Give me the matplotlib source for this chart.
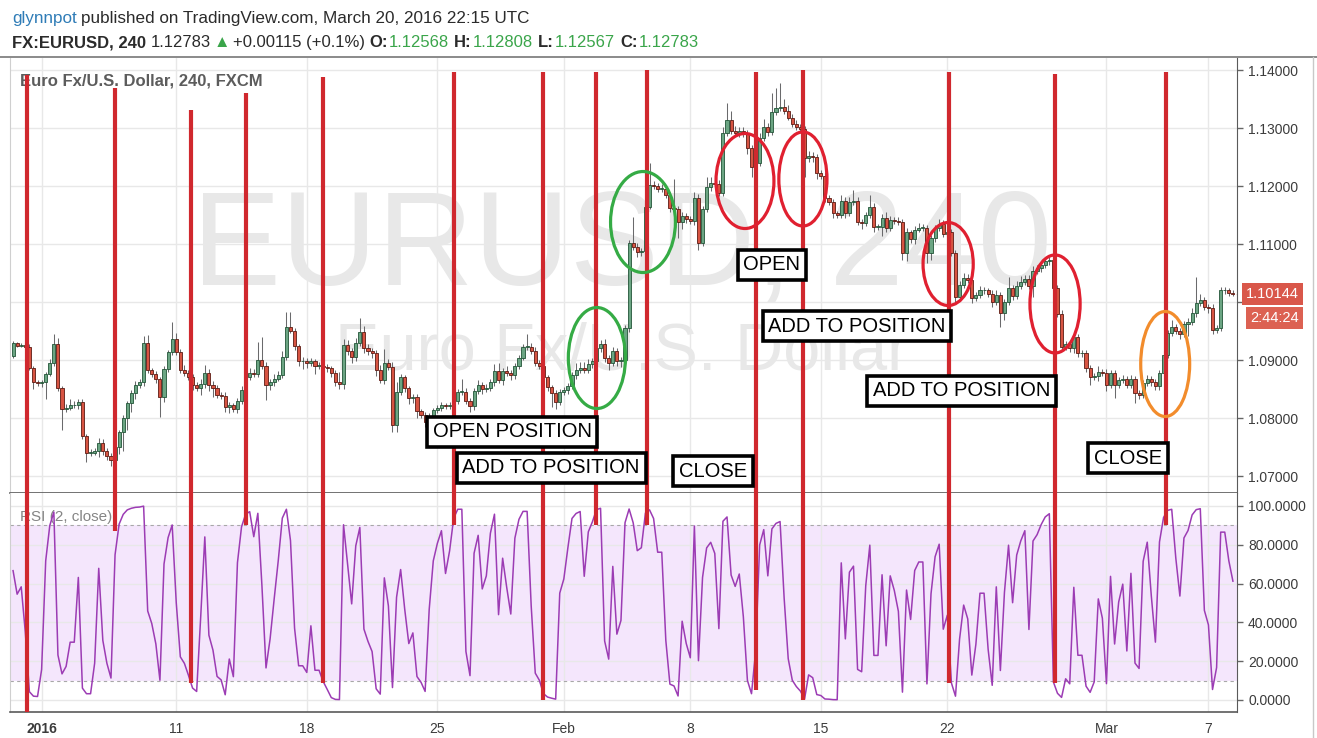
import numpy as np
import matplotlib
matplotlib.use("Agg")
import matplotlib.pyplot as plt
from matplotlib.patches import Ellipse
from matplotlib.lines import Line2D
from matplotlib.transforms import blended_transform_factory

plt.rcParams['font.family'] = ['Liberation Sans', 'DejaVu Sans']

# ---------------------------------------------------------------- data
first_open = 1.0907
close = [
    1.0929, 1.0925, 1.0926, 1.0922, 1.0886, 1.0862, 1.0860, 1.0862, 1.0876, 1.0895,
    1.0928, 1.0852, 1.0816, 1.0818, 1.0822, 1.0822, 1.0828, 1.0769, 1.0740, 1.0740,
    1.0743, 1.0757, 1.0743, 1.0735, 1.0728, 1.0750, 1.0776, 1.0800, 1.0826, 1.0843,
    1.0857, 1.0862, 1.0929, 1.0883, 1.0876, 1.0867, 1.0836, 1.0884, 1.0914, 1.0936,
    1.0914, 1.0883, 1.0878, 1.0870, 1.0857, 1.0852, 1.0858, 1.0877, 1.0857, 1.0852,
    1.0840, 1.0838, 1.0819, 1.0822, 1.0816, 1.0830, 1.0848, 1.0870, 1.0878, 1.0876,
    1.0900, 1.0890, 1.0857, 1.0862, 1.0868, 1.0875, 1.0905, 1.0957, 1.0950, 1.0924,
    1.0898, 1.0898, 1.0895, 1.0898, 1.0890, 1.0890, 1.0888, 1.0886, 1.0878, 1.0862,
    1.0858, 1.0926, 1.0915, 1.0905, 1.0930, 1.0948, 1.0920, 1.0915, 1.0912, 1.0883,
    1.0866, 1.0895, 1.0888, 1.0788, 1.0845, 1.0870, 1.0852, 1.0834, 1.0836, 1.0812,
    1.0806, 1.0793, 1.0803, 1.0813, 1.0818, 1.0822, 1.0820, 1.0822, 1.0830, 1.0845,
    1.0845, 1.0830, 1.0820, 1.0846, 1.0857, 1.0850, 1.0852, 1.0862, 1.0881, 1.0865,
    1.0881, 1.0877, 1.0874, 1.0889, 1.0904, 1.0923, 1.0923, 1.0915, 1.0895, 1.0890,
    1.0870, 1.0853, 1.0843, 1.0828, 1.0845, 1.0848, 1.0855, 1.0874, 1.0883, 1.0887,
    1.0883, 1.0893, 1.0898, 1.0920, 1.0928, 1.0903, 1.0895, 1.0915, 1.0898, 1.0900,
    1.0955, 1.1102, 1.1095, 1.1086, 1.1088, 1.1164, 1.1202, 1.1200, 1.1195, 1.1195,
    1.1185, 1.1162, 1.1160, 1.1138, 1.1148, 1.1143, 1.1140, 1.1179, 1.1102, 1.1160,
    1.1198, 1.1205, 1.1203, 1.1188, 1.1291, 1.1314, 1.1295, 1.1292, 1.1295, 1.1290,
    1.1266, 1.1233, 1.1240, 1.1283, 1.1302, 1.1293, 1.1327, 1.1335, 1.1337, 1.1330,
    1.1318, 1.1307, 1.1302, 1.1298, 1.1248, 1.1252, 1.1250, 1.1222, 1.1218, 1.1179,
    1.1173, 1.1153, 1.1150, 1.1175, 1.1153, 1.1173, 1.1175, 1.1138, 1.1136, 1.1150,
    1.1164, 1.1130, 1.1130, 1.1144, 1.1127, 1.1142, 1.1140, 1.1138, 1.1084, 1.1120,
    1.1108, 1.1125, 1.1128, 1.1128, 1.1085, 1.1110, 1.1128, 1.1135, 1.1118, 1.1120,
    1.1085, 1.1009, 1.1030, 1.1042, 1.1038, 1.1007, 1.1012, 1.1020, 1.1020, 1.1014,
    1.1000, 1.1012, 1.0981, 1.1000, 1.1024, 1.1011, 1.1028, 1.1035, 1.1040, 1.1028,
    1.1054, 1.1058, 1.1064, 1.1070, 1.1073, 1.1025, 1.0980, 1.0923, 1.0928, 1.0920,
    1.0940, 1.0912, 1.0912, 1.0886, 1.0871, 1.0872, 1.0880, 1.0878, 1.0857, 1.0877,
    1.0857, 1.0865, 1.0868, 1.0857, 1.0868, 1.0843, 1.0840, 1.0860, 1.0868, 1.0862,
    1.0855, 1.0877, 1.0909, 1.0947, 1.0957, 1.0950, 1.0945, 1.0962, 1.0966, 1.0981,
    1.0998, 1.1003, 1.0992, 1.0990, 1.0952, 1.0955, 1.1020, 1.1020, 1.1016, 1.1014,
]
# wick lengths above / below the candle body, in pips (0.0001)
wick_up_pips = [
    3, 2, 3, 4, 5, 3, 4, 4, 3, 6,
    17, 10, 4, 6, 10, 8, 5, 4, 3, 6,
    5, 8, 6, 5, 4, 3, 3, 5, 4, 6,
    7, 6, 12, 14, 4, 5, 3, 6, 4, 30,
    10, 5, 8, 4, 6, 5, 10, 15, 8, 6,
    5, 5, 6, 5, 4, 5, 8, 10, 8, 6,
    31, 40, 6, 5, 8, 6, 10, 26, 26, 6,
    4, 8, 6, 5, 4, 6, 4, 5, 4, 5,
    17, 10, 8, 6, 8, 25, 10, 7, 6, 5,
    8, 24, 6, 8, 17, 6, 5, 4, 6, 5,
    4, 5, 6, 5, 4, 5, 4, 5, 6, 5,
    22, 6, 5, 6, 8, 5, 6, 6, 12, 14,
    6, 8, 5, 6, 5, 5, 22, 6, 8, 5,
    4, 5, 4, 6, 5, 6, 5, 6, 12, 10,
    10, 8, 6, 5, 6, 8, 6, 8, 6, 5,
    5, 5, 45, 6, 5, 6, 38, 6, 5, 8,
    6, 5, 50, 6, 8, 6, 5, 10, 8, 6,
    18, 10, 6, 8, 10, 29, 16, 8, 6, 6,
    6, 5, 6, 8, 14, 6, 33, 34, 41, 13,
    10, 6, 6, 5, 5, 8, 6, 5, 6, 6,
    5, 5, 4, 10, 6, 8, 18, 6, 5, 6,
    21, 6, 5, 8, 12, 6, 5, 6, 5, 8,
    5, 6, 8, 6, 5, 6, 5, 8, 6, 5,
    6, 5, 6, 8, 6, 5, 6, 8, 6, 5,
    6, 8, 5, 6, 19, 6, 8, 10, 6, 6,
    8, 6, 5, 6, 5, 6, 5, 6, 5, 5,
    6, 5, 6, 5, 6, 5, 10, 5, 6, 5,
    6, 5, 6, 5, 6, 5, 6, 5, 6, 5,
    6, 5, 6, 5, 12, 5, 6, 6, 6, 8,
    45, 10, 6, 5, 6, 5, 6, 6, 5, 4,
]
wick_dn_pips = [
    4, 3, 3, 3, 4, 12, 5, 6, 30, 4,
    5, 6, 37, 6, 5, 5, 6, 5, 15, 5,
    4, 10, 6, 8, 10, 12, 12, 33, 20, 15,
    10, 5, 6, 5, 6, 6, 34, 8, 5, 5,
    5, 6, 5, 4, 8, 6, 12, 6, 10, 15,
    6, 6, 8, 10, 6, 8, 5, 4, 5, 6,
    5, 6, 26, 8, 6, 5, 6, 5, 4, 6,
    8, 13, 8, 6, 14, 6, 5, 6, 8, 6,
    8, 8, 6, 10, 6, 5, 8, 6, 8, 10,
    6, 8, 6, 12, 12, 6, 8, 10, 8, 12,
    6, 8, 12, 6, 5, 6, 4, 5, 6, 6,
    5, 6, 10, 6, 5, 8, 5, 5, 6, 5,
    8, 5, 8, 6, 5, 4, 5, 5, 6, 5,
    6, 6, 24, 12, 6, 5, 6, 5, 6, 5,
    6, 5, 6, 5, 6, 6, 12, 6, 8, 10,
    5, 6, 5, 8, 6, 5, 4, 5, 6, 5,
    6, 6, 8, 28, 12, 6, 5, 8, 12, 6,
    5, 6, 5, 6, 6, 5, 6, 5, 8, 6,
    10, 17, 10, 6, 5, 6, 5, 5, 6, 6,
    5, 6, 6, 5, 32, 6, 8, 10, 6, 6,
    6, 8, 5, 6, 8, 5, 5, 6, 10, 5,
    6, 10, 6, 17, 6, 5, 6, 5, 12, 14,
    6, 8, 5, 6, 18, 12, 6, 5, 6, 5,
    6, 9, 6, 5, 6, 8, 6, 5, 6, 6,
    8, 6, 24, 12, 6, 8, 5, 6, 5, 6,
    20, 5, 6, 5, 6, 5, 6, 8, 6, 6,
    8, 6, 6, 6, 14, 6, 8, 6, 10, 6,
    23, 6, 5, 6, 6, 17, 8, 6, 5, 6,
    6, 6, 5, 6, 6, 6, 8, 6, 20, 6,
    6, 5, 6, 9, 8, 6, 5, 6, 5, 4,
]
rsi_length = 2
rsi_seed_gain, rsi_seed_loss = 0.0002, 0.0012

date_labels = ['2016', '11', '18', '25', 'Feb', '8', '15', '22', 'Mar', '7']
date_bars = [7, 40, 72, 104, 135, 166, 198, 229, 268, 293]
price_ticks = [1.07, 1.08, 1.09, 1.10, 1.11, 1.12, 1.13, 1.14]
hidden_price_ticks = [1.10]          # covered by the last-price badge in the reference
rsi_ticks = [0, 20, 40, 60, 80, 100]

# drawn signal lines: bar, top (price), bottom (RSI value)
signal_bars = [3.5, 25, 43.5, 57, 76, 108, 130, 143, 155.5, 182, 193.5, 229.5, 255.5, 282.5]
signal_top = [1.13914, 1.13690, 1.13310, 1.13603, 1.13879, 1.13966, 1.13966,
              1.13966, 1.14000, 1.13966, 1.14000, 1.13966, 1.13931, 1.13966]
signal_rsi_end = [-7, 87, 9, 90, 9, 90, 0, 90, 90, 5, 0, 9, 9, 90]

# hand-drawn ellipses: bar, price, width (bars), height (price), colour
circles = [
    (143.1, 1.09034, 14.0, 0.01741, '#35ab45'),
    (154.4, 1.11379, 15.9, 0.01741, '#35ab45'),
    (179.4, 1.12086, 14.2, 0.01638, '#e02030'),
    (193.6, 1.12121, 11.8, 0.01621, '#e02030'),
    (229.2, 1.10655, 12.3, 0.01431, '#e02030'),
    (255.4, 1.09966, 12.3, 0.01690, '#e02030'),
    (282.4, 1.08931, 12.0, 0.01810, '#f28c2c'),
]
notes = [
    ('OPEN POSITION', 122.3, 1.07759),
    ('ADD TO POSITION', 131.9, 1.07138),
    ('CLOSE', 171.6, 1.07086),
    ('OPEN', 186.0, 1.10638),
    ('ADD TO POSITION', 206.9, 1.09586),
    ('ADD TO POSITION', 232.4, 1.08466),
    ('CLOSE', 273.3, 1.07310),
]
last_price_label = '1.10144'
countdown_label = '2:44:24'

# ---------------------------------------------------------------- derived
c = np.array(close)
o = np.concatenate([[first_open], c[:-1]])
hi = np.maximum(o, c) + np.array(wick_up_pips) * 1e-4
lo = np.minimum(o, c) - np.array(wick_dn_pips) * 1e-4
idx = np.arange(len(c))
up = c >= o

# RSI (Wilder smoothing), as the indicator is defined
delta = np.diff(np.concatenate([[first_open], c]))
ag, al = rsi_seed_gain, rsi_seed_loss
rsi = []
for d in delta:
    g, l = max(d, 0.0), max(-d, 0.0)
    ag = (ag * (rsi_length - 1) + g) / rsi_length
    al = (al * (rsi_length - 1) + l) / rsi_length
    rsi.append(100.0 if al == 0 else 100.0 - 100.0 / (1.0 + ag / al))
rsi = np.array(rsi)

# ---------------------------------------------------------------- figure
W, H = 1317, 738
fig = plt.figure(figsize=(W / 100, H / 100), dpi=100)
fig.patch.set_facecolor('white')


def fx(px):
    return px / W


def fy(py):
    return 1 - py / H


AX_L, AX_R = 10, 1237
P_TOP, P_BOT, R_BOT = 58, 493, 712
ax1 = fig.add_axes([fx(AX_L), fy(P_BOT), (AX_R - AX_L) / W, (P_BOT - P_TOP) / H])
ax2 = fig.add_axes([fx(AX_L), fy(R_BOT), (AX_R - AX_L) / W, (R_BOT - P_BOT) / H], sharex=ax1)

XLIM = (-0.75, 300.0)
PY = (1.067069, 1.142069)
RY = (-6.19, 106.7)
ax1.set_xlim(*XLIM)
ax1.set_ylim(*PY)
ax2.set_ylim(*RY)

GRID = '#e8e8e8'
for ax in (ax1, ax2):
    ax.set_facecolor('white')
    ax.grid(True, color=GRID, lw=1.0)
    ax.set_axisbelow(True)
    ax.spines['left'].set_color('#cfcfcf')
    ax.spines['right'].set_color('#5a5a5a')
    ax.spines['bottom'].set_color('#5a5a5a')
    ax.spines['top'].set_visible(False)
    ax.yaxis.tick_right()
    ax.tick_params(axis='y', length=4, width=1, color='#666666', labelsize=10,
                   labelcolor='#3c3c3c', pad=4)
ax1.spines['bottom'].set_linewidth(1.2)
ax2.spines['bottom'].set_linewidth(1.2)

ax1.set_yticks(price_ticks)
ax1.set_yticklabels(['' if v in hidden_price_ticks else f'{v:.5f}' for v in price_ticks])
ax2.set_yticks(rsi_ticks)
ax2.set_yticklabels([f'{v:.4f}' for v in rsi_ticks])
ax2.set_xticks(date_bars)
ax2.set_xticklabels(date_labels)
ax1.tick_params(axis='x', bottom=False, labelbottom=False)
ax2.tick_params(axis='x', length=0, labelsize=10, labelcolor='#3c3c3c', pad=7)
for lab in ax2.get_xticklabels():
    if lab.get_text() == '2016':
        lab.set_fontweight('bold')

# watermark
ax1.text(0.4988, 0.478, 'EURUSD, 240', transform=ax1.transAxes, fontsize=96,
         color='#e8e8e8', ha='center', va='baseline', zorder=0.6)
ax1.text(0.4988, 0.283, 'Euro Fx/U.S. Dollar', transform=ax1.transAxes, fontsize=48,
         color='#e8e8e8', ha='center', va='baseline', zorder=0.6)

# candles
ax1.vlines(idx, lo, hi, color='#6a6a6c', lw=0.75, zorder=2)
body_b = np.minimum(o, c)
body_h = np.maximum(np.abs(c - o), 0.00007)
ax1.bar(idx[up], body_h[up], bottom=body_b[up], width=0.76, color='#6ba583',
        edgecolor='#225437', linewidth=0.6, zorder=3)
ax1.bar(idx[~up], body_h[~up], bottom=body_b[~up], width=0.76, color='#d75442',
        edgecolor='#5b1a13', linewidth=0.6, zorder=3)

# last price line + labels
ax1.hlines(c[-1], idx[-1], XLIM[1], color='#d9574a', lw=0.8, ls=(0, (1, 2)), zorder=2)
trans = blended_transform_factory(ax1.transAxes, ax1.transData)
xlab = (1299 - AX_L) / (AX_R - AX_L)
ax1.text(xlab, c[-1], last_price_label, transform=trans, ha='right', va='center',
         color='white', fontsize=10.5, clip_on=False, zorder=10,
         bbox=dict(boxstyle='square,pad=0.28', fc='#d9574a', ec='none'))
ax1.annotate(countdown_label, xy=(xlab, c[-1]), xycoords=trans, xytext=(0, -24),
             textcoords='offset pixels', ha='right', va='center', color='white',
             fontsize=10.5, annotation_clip=False, zorder=10,
             bbox=dict(boxstyle='square,pad=0.28', fc='#dc6152', ec='none'))

# RSI pane
ax2.axhspan(10, 90, color='#f4e6fc', zorder=0.5, lw=0)
for lvl in (10, 90):
    ax2.axhline(lvl, color='#a8a8a8', lw=0.8, ls=(0, (3, 3)), zorder=1)
ax2.plot(idx, rsi, color='#9c3cb4', lw=1.1, zorder=3)

# legends
ax1.text((20 - AX_L) / (AX_R - AX_L), (P_BOT - 86) / (P_BOT - P_TOP),
         'Euro Fx/U.S. Dollar, 240, FXCM', transform=ax1.transAxes, fontsize=12,
         fontweight='bold', color='#5c5c5c', ha='left', va='baseline', zorder=1)
ax2.text((20 - AX_L) / (AX_R - AX_L), (R_BOT - 521) / (R_BOT - P_BOT),
         'RSI (2, close)', transform=ax2.transAxes, fontsize=11,
         color='#858585', ha='left', va='baseline', zorder=1)

# signal lines
RED = '#d0282e'
for b, top, end in zip(signal_bars, signal_top, signal_rsi_end):
    ax1.vlines(b, PY[0], top, color=RED, lw=3.0, zorder=5, capstyle='butt')
    ax2.vlines(b, max(end, RY[0]), RY[1], color=RED, lw=3.0, zorder=5, capstyle='butt')

# ellipses
for bx, py, w, h, col in circles:
    ax1.add_patch(Ellipse((bx, py), w, h, fill=False, ec=col, lw=2.3, zorder=6))

# boxed notes
for txt, bx, py in notes:
    ax1.text(bx, py, txt, ha='center', va='center', fontsize=14.5, color='black', zorder=8,
             bbox=dict(boxstyle='square,pad=0.28', fc='white', ec='black', lw=2.6))

# header
fig.add_artist(Line2D([0, 1], [fy(57), fy(57)], color='#8a8a8a', lw=1.4))
fig.add_artist(Line2D([fx(1313), fx(1313)], [fy(57), 0], color='#c8c8c8', lw=1.0))
renderer = fig.canvas.get_renderer()


def draw_run(x, y, pieces):
    for txt, gap, kw in pieces:
        t = fig.text(fx(x), fy(y), txt, ha='left', va='baseline', **kw)
        x += t.get_window_extent(renderer=renderer).width + gap


DARK = '#2b2b2b'
GREEN = '#3aa54a'
draw_run(12, 23, [
    ('glynnpot', 4, dict(fontsize=12.3, color='#2f7cb7')),
    ('published on TradingView.com, March 20, 2016 22:15 UTC', 0, dict(fontsize=12.3, color=DARK)),
])
FS2 = 12.0
bold = dict(fontsize=FS2, color=DARK, fontweight='bold')
norm = dict(fontsize=FS2, color=DARK)
grn = dict(fontsize=FS2, color=GREEN)
draw_run(12, 47, [
    ('FX:EURUSD, 240', 5, bold),
    ('1.12783', 3, norm),
    ('\u25B2', 2, dict(fontsize=FS2, color=GREEN)),
    ('+0.00115 (+0.1%)', 5, norm),
    ('O:', 1, bold), ('1.12568', 5, grn),
    ('H:', 1, bold), ('1.12808', 5, grn),
    ('L:', 1, bold), ('1.12567', 5, grn),
    ('C:', 1, bold), ('1.12783', 0, grn),
])

fig.savefig('out.png', dpi=100, facecolor='white')
